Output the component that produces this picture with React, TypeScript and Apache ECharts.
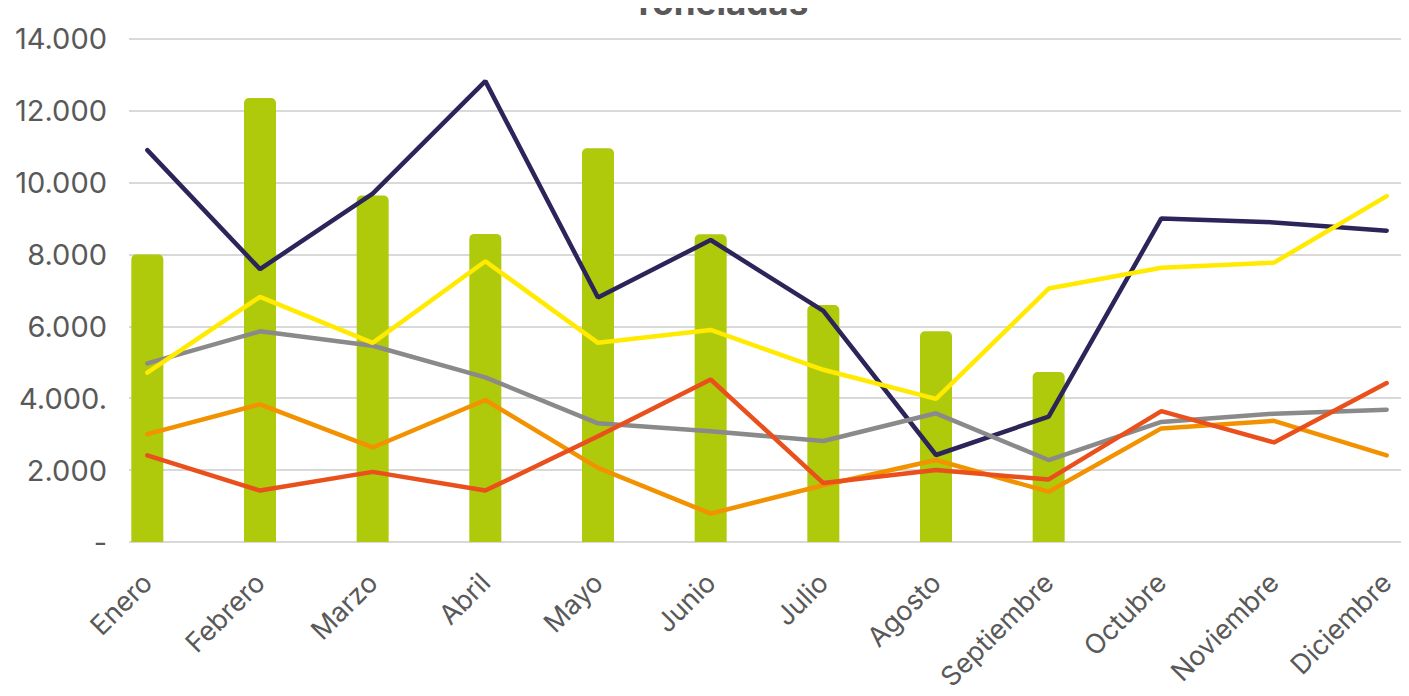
import React, { useEffect, useRef } from "react";
import * as echarts from "echarts";

const months = ["Enero", "Febrero", "Marzo", "Abril", "Mayo", "Junio", "Julio", "Agosto", "Septiembre", "Octubre", "Noviembre", "Diciembre"];
const barValues = [8000, 12350, 9640, 8570, 10950, 8560, 6590, 5860, 4730, null, null, null];
const navyValues = [10900, 7590, 9690, 12820, 6800, 8400, 6430, 2420, 3490, 9000, 8890, 8660];
const yellowValues = [4710, 6820, 5540, 7810, 5540, 5900, 4790, 3980, 7050, 7630, 7770, 9620];
const grayValues = [4970, 5860, 5460, 4580, 3300, 3080, 2810, 3580, 2280, 3340, 3570, 3680];
const orangeValues = [3000, 3830, 2630, 3950, 2060, 790, 1580, 2280, 1400, 3160, 3370, 2410];
const redValues = [2410, 1430, 1950, 1430, 2940, 4520, 1640, 2000, 1740, 3640, 2770, 4420];
const yTicks = [0, 2000, 4000, 6000, 8000, 10000, 12000, 14000];
const yTickLabels = ["-", "2.000", "4.000.", "6.000", "8.000", "10.000", "12.000", "14.000"];

const FONT = "Inter";
const TEXT = "#595959";

export default function App() {
  const ref = useRef<HTMLDivElement>(null);
  useEffect(() => {
    if (!ref.current) return;
    const chart = echarts.init(ref.current, undefined, { renderer: "svg" });
    const lineSeries = (name: string, data: number[], color: string, z: number) => ({
      name,
      type: "line",
      xAxisIndex: 1,
      yAxisIndex: 1,
      data,
      symbol: "none",
      z,
      lineStyle: { color, width: 4.5, cap: "round" },
    });
    chart.setOption({
      animation: false,
      backgroundColor: "#ffffff",
      textStyle: { fontFamily: FONT },
      graphic: [
        {
          type: "text",
          x: 720,
          y: 19,
          style: {
            text: "Toneladas",
            fontFamily: FONT,
            fontSize: 35,
            fontWeight: "bold",
            fill: TEXT,
            align: "center",
            verticalAlign: "bottom",
          },
        },
      ],
      grid: [
        { left: 129, width: 1280, top: 38.7, bottom: 154 },
        { left: 91, width: 1352, top: 38.7, bottom: 154 },
      ],
      xAxis: [
        { type: "category", gridIndex: 0, data: months, show: false },
        {
          type: "category",
          gridIndex: 1,
          data: months,
          boundaryGap: true,
          axisLine: { show: false },
          axisTick: { show: false },
          axisLabel: {
            rotate: 45,
            color: TEXT,
            fontFamily: FONT,
            fontSize: 27,
            margin: 36,
            interval: 0,
          },
        },
      ],
      yAxis: [
        {
          type: "value",
          gridIndex: 0,
          min: 0,
          max: 14000,
          interval: 2000,
          axisLine: { show: false },
          axisTick: { show: false },
          splitLine: { lineStyle: { color: "#D9D9D9", width: 2 } },
          axisLabel: {
            color: TEXT,
            fontFamily: FONT,
            fontSize: 29,
            margin: 22,
            formatter: (v: number) => {
              const i = yTicks.indexOf(v);
              return i >= 0 ? yTickLabels[i] : "";
            },
          },
        },
        {
          type: "value",
          gridIndex: 1,
          min: 0,
          max: 14000,
          interval: 2000,
          show: false,
          splitLine: { show: false },
        },
      ],
      series: [
        {
          name: "Barras",
          type: "bar",
          xAxisIndex: 1,
          yAxisIndex: 1,
          data: barValues,
          barWidth: 32,
          itemStyle: { color: "#AFCA0B", borderRadius: [5, 5, 0, 0] },
          z: 2,
        },
        lineSeries("Navy", navyValues, "#2B2559", 3),
        lineSeries("Gris", grayValues, "#8A8A8A", 4),
        lineSeries("Naranja", orangeValues, "#F39200", 5),
        lineSeries("Rojo", redValues, "#E9501C", 6),
        lineSeries("Amarillo", yellowValues, "#FFEA00", 7),
      ],
    });
    return () => chart.dispose();
  }, []);
  return (
    <div style={{ width: 1409, height: 696, margin: -8, overflow: "hidden", position: "relative" }}>
      <div ref={ref} style={{ width: 1460, height: 696 }} />
    </div>
  );
}
